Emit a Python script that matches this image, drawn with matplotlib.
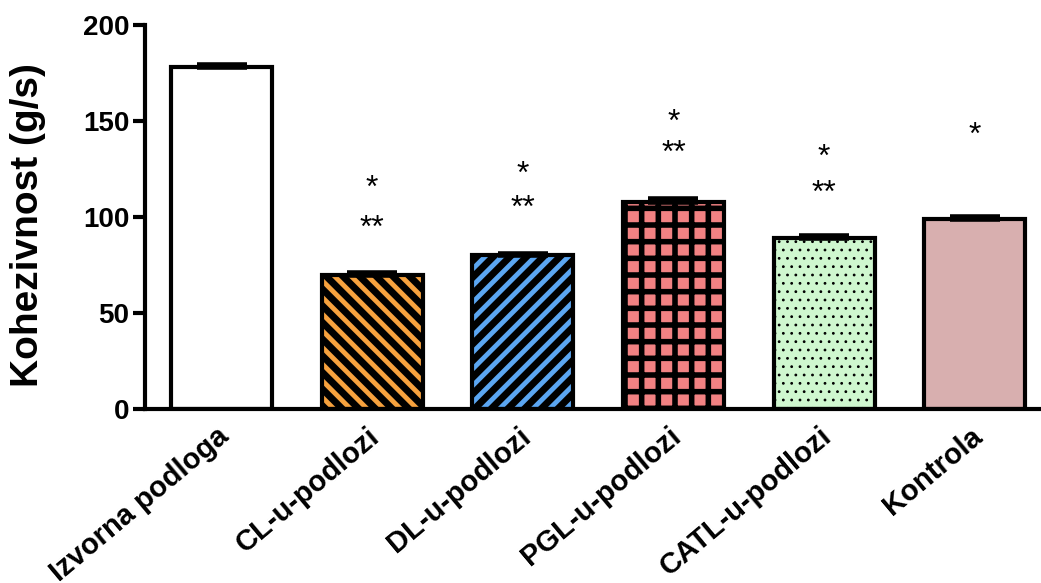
#!/usr/bin/env python3
"""Bar chart of cohesiveness (Kohezivnost) per substrate, GraphPad-like style."""
import matplotlib
matplotlib.use("Agg")
import matplotlib.pyplot as plt
import matplotlib.transforms as mtransforms
import numpy as np

# Data
categories = ["Izvorna podloga", "CL-u-podlozi", "DL-u-podlozi",
              "PGL-u-podlozi", "CATL-u-podlozi", "Kontrola"]
means = [178, 70, 80, 108, 89, 99]
sem = [1.2, 0.8, 0.8, 1.2, 0.9, 0.9]
star_top = ["", "*", "*", "*", "*", "*"]
star_top_y = [0, 114.5, 122, 149, 131, 142]
star_low = ["", "**", "**", "**", "**", ""]
star_low_y = [0, 94, 104, 133, 112, 0]

# Styling
face_colors = ["#FFFFFF", "#F7A23E", "#5BA6F2", "#F28283", "#CFF7CF", "#D8AFAF"]
hatches = [None, "\\\\", "//", "+", "..", None]
hatch_widths = [1, 5, 5, 4, 0.8, 1]

plt.rcParams['font.family'] = ['Liberation Sans', 'DejaVu Sans']

fig = plt.figure(figsize=(10.41, 5.83), dpi=100)
ax = fig.add_axes([0.139, 0.2985, 0.861, 0.6585])

x = np.arange(len(categories))
for i in range(len(categories)):
    plt.rcParams['hatch.linewidth'] = hatch_widths[i]
    bar = ax.bar(x[i], means[i], width=0.67, color=face_colors[i],
                 edgecolor="black", linewidth=3, hatch=hatches[i], zorder=2)
    for p in bar:
        if hasattr(p, "set_hatch_linewidth"):
            p.set_hatch_linewidth(hatch_widths[i])

# error bars (upper half only; lower half is hidden by the bar)
ax.errorbar(x, means, yerr=[np.zeros(len(sem)), sem], fmt="none",
            ecolor="black", elinewidth=3, capsize=18, capthick=4, zorder=3)

for i in range(len(categories)):
    if star_top[i]:
        ax.text(x[i], star_top_y[i], star_top[i], ha="center", va="center",
                fontsize=23)
    if star_low[i]:
        ax.text(x[i], star_low_y[i], star_low[i], ha="center", va="center",
                fontsize=23)

ax.set_xlim(-0.51, 5.44)
ax.set_ylim(0, 200)
ax.set_yticks([0, 50, 100, 150, 200])
ax.tick_params(axis="y", length=9, width=3, labelsize=20, pad=2)
for lab in ax.get_yticklabels():
    lab.set_fontweight("bold")

ax.set_xticks(x)
ax.set_xticklabels(categories, rotation=40, ha="right", rotation_mode="anchor",
                   fontsize=21, fontweight="bold")
ax.tick_params(axis="x", length=0, pad=9.5)
# shift x labels a little left of the bar centres
offset = mtransforms.ScaledTranslation(-0.05, 0, fig.dpi_scale_trans)
for lab in ax.get_xticklabels():
    lab.set_transform(lab.get_transform() + offset)

ax.set_ylabel("Kohezivnost (g/s)", fontsize=28, fontweight="bold")
ax.yaxis.set_label_coords(-0.11, 0.48)

for side in ["top", "right"]:
    ax.spines[side].set_visible(False)
for side in ["left", "bottom"]:
    ax.spines[side].set_linewidth(3)

fig.savefig("out.png", dpi=100)
